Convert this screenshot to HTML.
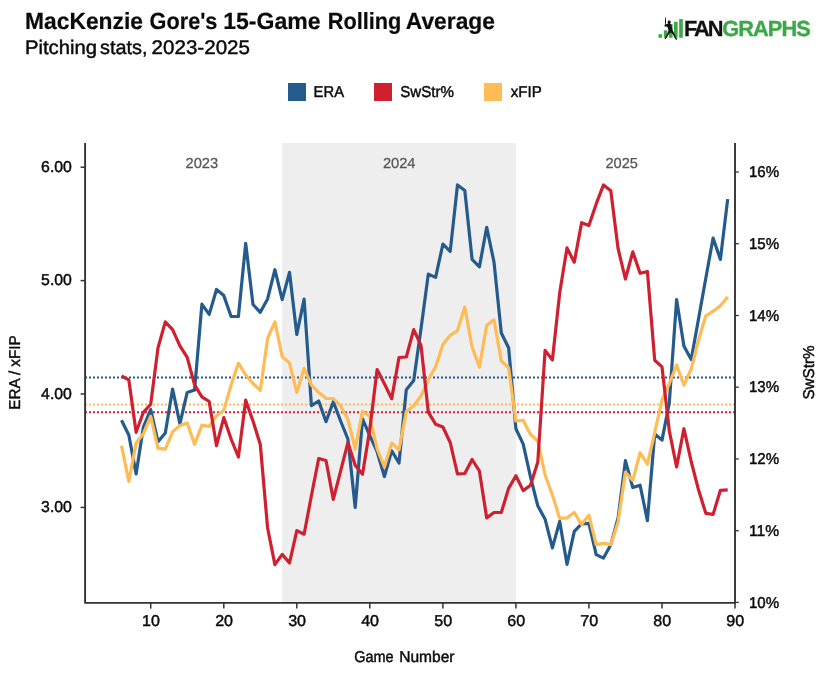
<!DOCTYPE html>
<html><head><meta charset="utf-8"><title>MacKenzie Gore 15-Game Rolling Average</title>
<style>
html,body{margin:0;padding:0;background:#ffffff;}
body{width:823px;height:679px;overflow:hidden;font-family:"Liberation Sans",sans-serif;}
svg{display:block;font-family:"Liberation Sans",sans-serif;text-rendering:geometricPrecision;will-change:transform;}
</style></head><body>
<svg width="823" height="679" viewBox="0 0 823 679">
<rect x="282.2" y="143" width="233.7" height="459.5" fill="#eeeeee"/>
<text x="201.8" y="168" font-size="14.5" font-weight="normal" fill="#555555" stroke="#555555" stroke-width="0.25" text-anchor="middle" textLength="32.6" lengthAdjust="spacingAndGlyphs">2023</text>
<text x="399.2" y="168" font-size="14.5" font-weight="normal" fill="#555555" stroke="#555555" stroke-width="0.25" text-anchor="middle" textLength="32.6" lengthAdjust="spacingAndGlyphs">2024</text>
<text x="621.7" y="168" font-size="14.5" font-weight="normal" fill="#555555" stroke="#555555" stroke-width="0.25" text-anchor="middle" textLength="32.6" lengthAdjust="spacingAndGlyphs">2025</text>
<line x1="85" y1="377.5" x2="735" y2="377.5" stroke="#255b8c" stroke-width="2" stroke-dasharray="2 2"/>
<line x1="85" y1="404.4" x2="735" y2="404.4" stroke="#ffbb55" stroke-width="2" stroke-dasharray="2 2"/>
<line x1="85" y1="412.2" x2="735" y2="412.2" stroke="#cf2030" stroke-width="2" stroke-dasharray="2 2"/>
<polyline points="121.5,420.3 128.8,435.0 136.1,473.9 143.4,427.0 150.7,409.6 158.0,441.7 165.3,432.9 172.6,389.0 179.9,423.8 187.2,392.4 194.6,390.0 201.9,304.2 209.2,314.4 216.5,289.5 223.8,295.6 231.1,316.5 238.4,316.5 245.7,243.4 253.0,304.5 260.3,312.3 267.6,298.9 274.9,269.7 282.2,299.7 289.5,272.3 296.8,334.5 304.1,299.1 311.4,405.6 318.7,401.0 326.0,421.7 333.3,401.7 340.6,421.0 347.9,439.0 355.2,507.5 362.5,418.8 369.8,435.6 377.1,451.7 384.4,476.5 391.7,450.7 399.0,463.0 406.3,389.7 413.7,380.6 421.0,328.8 428.3,274.1 435.6,277.4 442.9,244.1 450.2,251.4 457.5,184.9 464.8,190.5 472.1,259.4 479.4,266.9 486.7,227.3 494.0,262.1 501.3,333.0 508.6,347.7 515.9,428.7 523.2,444.1 530.5,477.0 537.8,505.8 545.1,519.2 552.4,547.9 559.7,521.4 567.0,564.3 574.3,531.3 581.6,523.8 588.9,523.3 596.2,554.6 603.5,558.1 610.8,544.7 618.1,517.9 625.4,460.6 632.8,487.6 640.1,485.2 647.4,520.6 654.7,434.0 662.0,440.1 669.3,403.0 676.6,299.5 683.9,346.1 691.2,359.5 698.5,319.0 705.8,278.2 713.1,238.0 720.4,259.4 727.7,199.1" fill="none" stroke="#255b8c" stroke-width="3.2" stroke-linejoin="round" stroke-linecap="butt"/>
<polyline points="121.5,445.7 128.8,481.4 136.1,443.1 143.4,433.7 150.7,416.3 158.0,448.4 165.3,449.2 172.6,431.8 179.9,425.6 187.2,423.0 194.6,444.4 201.9,425.1 209.2,426.5 216.5,415.7 223.8,410.4 231.1,385.0 238.4,363.2 245.7,375.0 253.0,383.5 260.3,390.3 267.6,338.5 274.9,321.9 282.2,356.7 289.5,362.9 296.8,392.4 304.1,368.4 311.4,385.2 318.7,392.4 326.0,398.3 333.3,398.5 340.6,406.0 347.9,419.5 355.2,449.0 362.5,411.2 369.8,416.5 377.1,449.0 384.4,467.0 391.7,443.0 399.0,449.7 406.3,411.5 413.7,405.7 421.0,396.0 428.3,379.8 435.6,366.9 442.9,344.4 450.2,335.3 457.5,330.5 464.8,307.1 472.1,347.0 479.4,367.2 486.7,325.3 494.0,319.9 501.3,361.0 508.6,367.7 515.9,421.0 523.2,420.3 530.5,434.5 537.8,441.0 545.1,475.0 552.4,495.1 559.7,518.4 567.0,517.9 574.3,512.5 581.6,524.6 588.9,515.2 596.2,544.7 603.5,543.4 610.8,544.7 618.1,521.9 625.4,472.3 632.8,480.4 640.1,452.7 647.4,464.2 654.7,432.7 662.0,400.0 669.3,383.5 676.6,365.0 683.9,385.1 691.2,369.0 698.5,340.0 705.8,315.8 713.1,311.2 720.4,305.8 727.7,297.0" fill="none" stroke="#ffbb55" stroke-width="3.2" stroke-linejoin="round" stroke-linecap="butt"/>
<polyline points="121.5,376.0 128.8,379.8 136.1,432.3 143.4,412.3 150.7,404.2 158.0,347.9 165.3,321.9 172.6,329.7 179.9,345.8 187.2,357.3 194.6,384.8 201.9,396.8 209.2,401.5 216.5,445.7 223.8,417.6 231.1,439.0 238.4,457.0 245.7,400.2 253.0,421.1 260.3,444.5 267.6,528.0 274.9,564.6 282.2,554.4 289.5,563.0 296.8,530.6 304.1,534.2 311.4,495.8 318.7,458.5 326.0,460.5 333.3,499.4 340.6,471.1 347.9,442.7 355.2,465.3 362.5,474.2 369.8,429.5 377.1,369.6 384.4,383.8 391.7,398.7 399.0,357.5 406.3,357.0 413.7,329.6 421.0,345.3 428.3,412.1 435.6,424.2 442.9,427.0 450.2,442.5 457.5,474.0 464.8,473.5 472.1,459.5 479.4,471.0 486.7,517.9 494.0,512.5 501.3,512.5 508.6,488.4 515.9,475.8 523.2,490.6 530.5,485.2 537.8,462.0 545.1,350.4 552.4,360.0 559.7,292.8 567.0,247.9 574.3,262.2 581.6,222.7 588.9,225.4 596.2,203.9 603.5,184.9 610.8,190.8 618.1,248.7 625.4,279.0 632.8,251.9 640.1,273.3 647.4,271.5 654.7,360.2 662.0,366.9 669.3,430.7 676.6,467.0 683.9,428.7 691.2,461.5 698.5,489.8 705.8,513.3 713.1,514.4 720.4,490.3 727.7,489.8" fill="none" stroke="#cf2030" stroke-width="3.2" stroke-linejoin="round" stroke-linecap="butt"/>
<path d="M85.1 143V602.9H735V143" fill="none" stroke="#333333" stroke-width="1.9"/>
<line x1="80.6" y1="167.20000000000002" x2="85" y2="167.20000000000002" stroke="#333333" stroke-width="1.5"/>
<text x="71.9" y="171.9" font-size="15.7" font-weight="normal" fill="#0a0a0a" stroke="#0a0a0a" stroke-width="0.45" text-anchor="end" textLength="30.8" lengthAdjust="spacingAndGlyphs">6.00</text>
<line x1="80.6" y1="280.6" x2="85" y2="280.6" stroke="#333333" stroke-width="1.5"/>
<text x="71.9" y="285.3" font-size="15.7" font-weight="normal" fill="#0a0a0a" stroke="#0a0a0a" stroke-width="0.45" text-anchor="end" textLength="30.8" lengthAdjust="spacingAndGlyphs">5.00</text>
<line x1="80.6" y1="394.0" x2="85" y2="394.0" stroke="#333333" stroke-width="1.5"/>
<text x="71.9" y="398.7" font-size="15.7" font-weight="normal" fill="#0a0a0a" stroke="#0a0a0a" stroke-width="0.45" text-anchor="end" textLength="30.8" lengthAdjust="spacingAndGlyphs">4.00</text>
<line x1="80.6" y1="507.40000000000003" x2="85" y2="507.40000000000003" stroke="#333333" stroke-width="1.5"/>
<text x="71.9" y="512.1" font-size="15.7" font-weight="normal" fill="#0a0a0a" stroke="#0a0a0a" stroke-width="0.45" text-anchor="end" textLength="30.8" lengthAdjust="spacingAndGlyphs">3.00</text>
<line x1="735" y1="602.4" x2="738.8" y2="602.4" stroke="#333333" stroke-width="1.3"/>
<text x="748.9" y="607.65" font-size="15.7" font-weight="normal" fill="#0a0a0a" stroke="#0a0a0a" stroke-width="0.45" text-anchor="start" textLength="30.2" lengthAdjust="spacingAndGlyphs">10%</text>
<line x1="735" y1="530.7" x2="738.8" y2="530.7" stroke="#333333" stroke-width="1.3"/>
<text x="748.9" y="535.92" font-size="15.7" font-weight="normal" fill="#0a0a0a" stroke="#0a0a0a" stroke-width="0.45" text-anchor="start" textLength="30.2" lengthAdjust="spacingAndGlyphs">11%</text>
<line x1="735" y1="458.9" x2="738.8" y2="458.9" stroke="#333333" stroke-width="1.3"/>
<text x="748.9" y="464.18999999999994" font-size="15.7" font-weight="normal" fill="#0a0a0a" stroke="#0a0a0a" stroke-width="0.45" text-anchor="start" textLength="30.2" lengthAdjust="spacingAndGlyphs">12%</text>
<line x1="735" y1="387.2" x2="738.8" y2="387.2" stroke="#333333" stroke-width="1.3"/>
<text x="748.9" y="392.46" font-size="15.7" font-weight="normal" fill="#0a0a0a" stroke="#0a0a0a" stroke-width="0.45" text-anchor="start" textLength="30.2" lengthAdjust="spacingAndGlyphs">13%</text>
<line x1="735" y1="315.5" x2="738.8" y2="315.5" stroke="#333333" stroke-width="1.3"/>
<text x="748.9" y="320.72999999999996" font-size="15.7" font-weight="normal" fill="#0a0a0a" stroke="#0a0a0a" stroke-width="0.45" text-anchor="start" textLength="30.2" lengthAdjust="spacingAndGlyphs">14%</text>
<line x1="735" y1="243.7" x2="738.8" y2="243.7" stroke="#333333" stroke-width="1.3"/>
<text x="748.9" y="248.99999999999994" font-size="15.7" font-weight="normal" fill="#0a0a0a" stroke="#0a0a0a" stroke-width="0.45" text-anchor="start" textLength="30.2" lengthAdjust="spacingAndGlyphs">15%</text>
<line x1="735" y1="172.0" x2="738.8" y2="172.0" stroke="#333333" stroke-width="1.3"/>
<text x="748.9" y="177.26999999999998" font-size="15.7" font-weight="normal" fill="#0a0a0a" stroke="#0a0a0a" stroke-width="0.45" text-anchor="start" textLength="30.2" lengthAdjust="spacingAndGlyphs">16%</text>
<line x1="150.7" y1="602.9" x2="150.7" y2="608.6" stroke="#333333" stroke-width="1.5"/>
<text x="151.0" y="626" font-size="15.7" font-weight="normal" fill="#0a0a0a" stroke="#0a0a0a" stroke-width="0.45" text-anchor="middle" textLength="17.9" lengthAdjust="spacingAndGlyphs">10</text>
<line x1="223.8" y1="602.9" x2="223.8" y2="608.6" stroke="#333333" stroke-width="1.5"/>
<text x="224.1" y="626" font-size="15.7" font-weight="normal" fill="#0a0a0a" stroke="#0a0a0a" stroke-width="0.45" text-anchor="middle" textLength="17.9" lengthAdjust="spacingAndGlyphs">20</text>
<line x1="296.8" y1="602.9" x2="296.8" y2="608.6" stroke="#333333" stroke-width="1.5"/>
<text x="297.1" y="626" font-size="15.7" font-weight="normal" fill="#0a0a0a" stroke="#0a0a0a" stroke-width="0.45" text-anchor="middle" textLength="17.9" lengthAdjust="spacingAndGlyphs">30</text>
<line x1="369.8" y1="602.9" x2="369.8" y2="608.6" stroke="#333333" stroke-width="1.5"/>
<text x="370.1" y="626" font-size="15.7" font-weight="normal" fill="#0a0a0a" stroke="#0a0a0a" stroke-width="0.45" text-anchor="middle" textLength="17.9" lengthAdjust="spacingAndGlyphs">40</text>
<line x1="442.9" y1="602.9" x2="442.9" y2="608.6" stroke="#333333" stroke-width="1.5"/>
<text x="443.2" y="626" font-size="15.7" font-weight="normal" fill="#0a0a0a" stroke="#0a0a0a" stroke-width="0.45" text-anchor="middle" textLength="17.9" lengthAdjust="spacingAndGlyphs">50</text>
<line x1="515.9" y1="602.9" x2="515.9" y2="608.6" stroke="#333333" stroke-width="1.5"/>
<text x="516.2" y="626" font-size="15.7" font-weight="normal" fill="#0a0a0a" stroke="#0a0a0a" stroke-width="0.45" text-anchor="middle" textLength="17.9" lengthAdjust="spacingAndGlyphs">60</text>
<line x1="588.9" y1="602.9" x2="588.9" y2="608.6" stroke="#333333" stroke-width="1.5"/>
<text x="589.2" y="626" font-size="15.7" font-weight="normal" fill="#0a0a0a" stroke="#0a0a0a" stroke-width="0.45" text-anchor="middle" textLength="17.9" lengthAdjust="spacingAndGlyphs">70</text>
<line x1="662.0" y1="602.9" x2="662.0" y2="608.6" stroke="#333333" stroke-width="1.5"/>
<text x="662.3" y="626" font-size="15.7" font-weight="normal" fill="#0a0a0a" stroke="#0a0a0a" stroke-width="0.45" text-anchor="middle" textLength="17.9" lengthAdjust="spacingAndGlyphs">80</text>
<line x1="735.0" y1="602.9" x2="735.0" y2="608.6" stroke="#333333" stroke-width="1.5"/>
<text x="735.3" y="626" font-size="15.7" font-weight="normal" fill="#0a0a0a" stroke="#0a0a0a" stroke-width="0.45" text-anchor="middle" textLength="17.9" lengthAdjust="spacingAndGlyphs">90</text>
<text transform="translate(20,372.6) rotate(-90)" font-size="15.7" text-anchor="middle" fill="#0a0a0a" stroke="#0a0a0a" stroke-width="0.45" textLength="74.2" lengthAdjust="spacingAndGlyphs">ERA / xFIP</text>
<text transform="translate(814.4,372.5) rotate(-90)" font-size="15.7" text-anchor="middle" fill="#0a0a0a" stroke="#0a0a0a" stroke-width="0.45" textLength="54.2" lengthAdjust="spacingAndGlyphs">SwStr%</text>
<text x="354.2" y="662.4" font-size="15.7" font-weight="normal" fill="#0a0a0a" stroke="#0a0a0a" stroke-width="0.45" text-anchor="start" textLength="39.5" lengthAdjust="spacingAndGlyphs">Game</text>
<text x="399.2" y="662.4" font-size="15.7" font-weight="normal" fill="#0a0a0a" stroke="#0a0a0a" stroke-width="0.45" text-anchor="start" textLength="55.3" lengthAdjust="spacingAndGlyphs">Number</text>
<rect x="288" y="83" width="18" height="18" fill="#255b8c"/>
<text x="313.6" y="96.6" font-size="15.7" font-weight="normal" fill="#0a0a0a" stroke="#0a0a0a" stroke-width="0.45" text-anchor="start" textLength="30.4" lengthAdjust="spacingAndGlyphs">ERA</text>
<rect x="374" y="83" width="18" height="18" fill="#cf2030"/>
<text x="400.3" y="96.6" font-size="15.7" font-weight="normal" fill="#0a0a0a" stroke="#0a0a0a" stroke-width="0.45" text-anchor="start" textLength="53.7" lengthAdjust="spacingAndGlyphs">SwStr%</text>
<rect x="484" y="83" width="18" height="18" fill="#ffbb55"/>
<text x="510.8" y="96.6" font-size="15.7" font-weight="normal" fill="#0a0a0a" stroke="#0a0a0a" stroke-width="0.45" text-anchor="start" textLength="31" lengthAdjust="spacingAndGlyphs">xFIP</text>
<text x="25.0" y="28.6" font-size="23.4" font-weight="bold" fill="#0a0a0a" stroke="#0a0a0a" stroke-width="0.2" text-anchor="start" textLength="118.0" lengthAdjust="spacingAndGlyphs">MacKenzie</text>
<text x="149.6" y="28.6" font-size="23.4" font-weight="bold" fill="#0a0a0a" stroke="#0a0a0a" stroke-width="0.2" text-anchor="start" textLength="67.8" lengthAdjust="spacingAndGlyphs">Gore's</text>
<text x="223.2" y="28.6" font-size="23.4" font-weight="bold" fill="#0a0a0a" stroke="#0a0a0a" stroke-width="0.2" text-anchor="start" textLength="97.4" lengthAdjust="spacingAndGlyphs">15-Game</text>
<text x="327.8" y="28.6" font-size="23.4" font-weight="bold" fill="#0a0a0a" stroke="#0a0a0a" stroke-width="0.2" text-anchor="start" textLength="73.6" lengthAdjust="spacingAndGlyphs">Rolling</text>
<text x="405.8" y="28.6" font-size="23.4" font-weight="bold" fill="#0a0a0a" stroke="#0a0a0a" stroke-width="0.2" text-anchor="start" textLength="89.2" lengthAdjust="spacingAndGlyphs">Average</text>
<text x="25.0" y="54.2" font-size="19.6" font-weight="normal" fill="#0a0a0a" stroke="#0a0a0a" stroke-width="0.45" text-anchor="start" textLength="72" lengthAdjust="spacingAndGlyphs">Pitching</text>
<text x="100" y="54.2" font-size="19.6" font-weight="normal" fill="#0a0a0a" stroke="#0a0a0a" stroke-width="0.45" text-anchor="start" textLength="47.4" lengthAdjust="spacingAndGlyphs">stats,</text>
<text x="151.6" y="54.2" font-size="19.6" font-weight="normal" fill="#0a0a0a" stroke="#0a0a0a" stroke-width="0.45" text-anchor="start" textLength="98.4" lengthAdjust="spacingAndGlyphs">2023-2025</text>
<rect x="658.5" y="34.2" width="3.6" height="3.6" fill="#3aa947"/>
<rect x="663.8" y="30.3" width="3.6" height="7.5" fill="#3aa947"/>
<rect x="669.0" y="24.1" width="3.6" height="13.7" fill="#3aa947"/>
<rect x="674.0" y="21.8" width="3.6" height="16.0" fill="#3aa947"/>
<rect x="679.2" y="19.0" width="3.6" height="18.8" fill="#3aa947"/>
<path d="M665.06 17.51L665.80 17.51L665.97 21.42L665.80 24.80L665.14 24.80L664.98 21.42ZM664.57 24.80L665.80 24.31L667.37 23.90L667.99 23.28L667.58 22.04L667.99 20.80L669.02 20.39L670.18 20.80L670.67 21.84L671.16 22.45L670.34 22.87L670.18 23.69L671.29 24.52L671.70 26.37L672.11 28.43L672.73 30.49L674.38 33.79L675.82 37.09L677.06 39.15L676.65 39.90L675.41 39.36L674.38 37.09L672.73 34.21L670.88 32.14L669.43 33.38L667.78 35.86L666.13 38.33L665.52 39.24L664.57 38.95L665.10 37.71L666.75 34.62L668.20 31.73L668.40 29.67L667.58 27.61L666.96 26.58L665.31 26.78L664.57 26.16Z" fill="#111111"/>
<text x="683.9" y="35.6" font-size="21.8" font-weight="bold" fill="#111111" stroke="#111111" stroke-width="0.3" textLength="39.6" lengthAdjust="spacing">FAN</text>
<text x="722.3" y="35.6" font-size="21.8" font-weight="bold" fill="#3aa947" stroke="#3aa947" stroke-width="0.35" textLength="88.4" lengthAdjust="spacing">GRAPHS</text>
</svg>
</body></html>
